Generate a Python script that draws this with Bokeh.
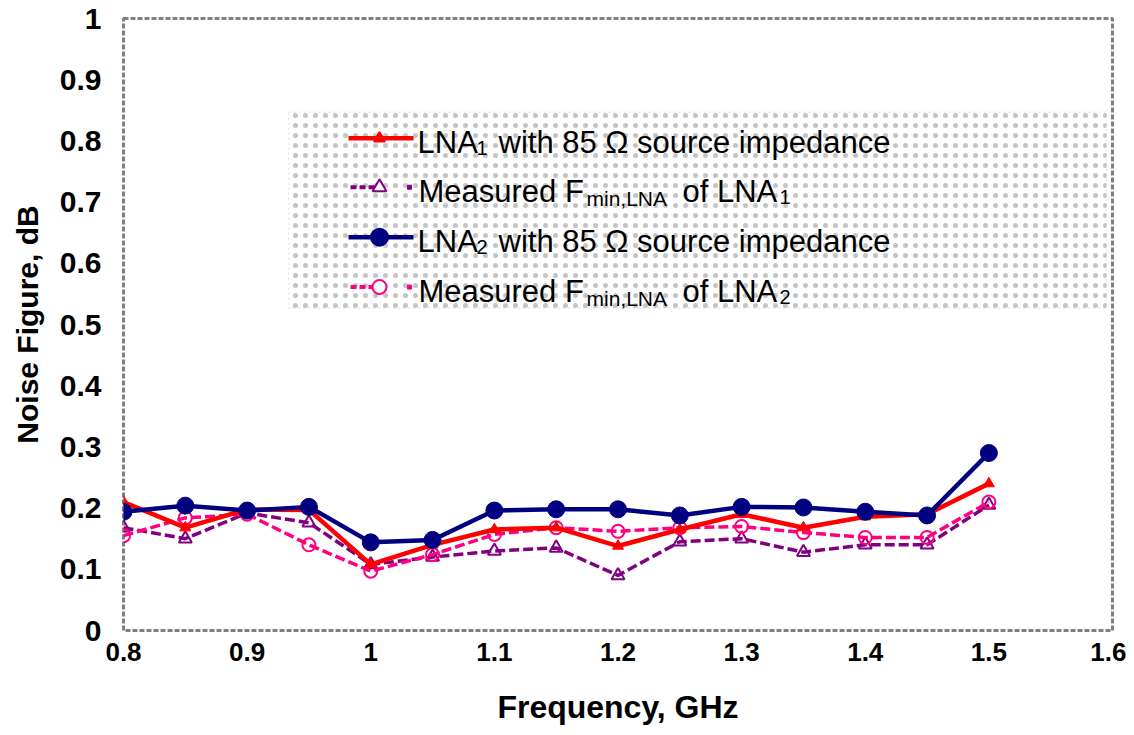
from bokeh.plotting import figure
from bokeh.models import Range1d, FixedTicker, Label, BoxAnnotation
from bokeh.embed import file_html
from bokeh.resources import INLINE

# ---------------- data ----------------
freq = [0.8, 0.85, 0.9, 0.95, 1.0, 1.05, 1.1, 1.15, 1.2, 1.25, 1.3, 1.35, 1.4, 1.45, 1.5]
lna1_85 = [0.21, 0.168, 0.198, 0.197, 0.108, 0.14, 0.165, 0.168, 0.138, 0.165, 0.19, 0.168, 0.186, 0.19, 0.24]
fmin_lna1 = [0.168, 0.15, 0.192, 0.176, 0.108, 0.12, 0.13, 0.135, 0.09, 0.145, 0.15, 0.128, 0.14, 0.14, 0.205]
lna2_85 = [0.194, 0.204, 0.196, 0.202, 0.144, 0.148, 0.196, 0.198, 0.198, 0.188, 0.202, 0.201, 0.194, 0.188, 0.29]
fmin_lna2 = [0.155, 0.184, 0.19, 0.14, 0.097, 0.124, 0.157, 0.168, 0.162, 0.168, 0.17, 0.16, 0.152, 0.152, 0.21]

x_ticks = [0.8, 0.9, 1.0, 1.1, 1.2, 1.3, 1.4, 1.5, 1.6]
x_tick_labels = ["0.8", "0.9", "1", "1.1", "1.2", "1.3", "1.4", "1.5", "1.6"]
y_ticks = [0.0, 0.1, 0.2, 0.3, 0.4, 0.5, 0.6, 0.7, 0.8, 0.9, 1.0]
y_tick_labels = ["0", "0.1", "0.2", "0.3", "0.4", "0.5", "0.6", "0.7", "0.8", "0.9", "1"]

FONT = "Liberation Sans"
RED = "#FF0000"
PURPLE = "#800080"
NAVY = "#000080"
PINK = "#FF0080"

p = figure(width=1126, height=727, output_backend="svg", toolbar_location=None,
           x_range=Range1d(0.8, 1.6), y_range=Range1d(0, 1),
           min_border_left=123, min_border_right=14, min_border_top=18, min_border_bottom=96,
           background_fill_color="white", border_fill_color="white")

p.xgrid.visible = False
p.ygrid.visible = False
p.outline_line_color = "#808080"
p.outline_line_width = 3
p.outline_line_dash = "5 2"

for ax in (p.xaxis[0], p.yaxis[0]):
    ax.axis_line_color = None
    ax.major_tick_line_color = None
    ax.minor_tick_line_color = None
    ax.major_tick_in = 0
    ax.major_tick_out = 0
    ax.minor_tick_in = 0
    ax.minor_tick_out = 0
    ax.major_label_text_font = FONT
    ax.major_label_text_font_style = "bold"
    ax.major_label_text_color = "black"
    ax.axis_label_text_font = FONT
    ax.axis_label_text_font_style = "bold"
    ax.axis_label_text_color = "black"

p.xaxis.ticker = FixedTicker(ticks=x_ticks)
p.xaxis.major_label_overrides = {t: l for t, l in zip(x_ticks, x_tick_labels)}
p.xaxis.major_label_text_font_size = "26px"
p.xaxis.major_label_standoff = 12
p.xaxis.axis_label = "Frequency, GHz"
p.xaxis.axis_label_text_font_size = "32px"
p.xaxis.axis_label_standoff = 25

p.yaxis.ticker = FixedTicker(ticks=y_ticks)
p.yaxis.major_label_overrides = {t: l for t, l in zip(y_ticks, y_tick_labels)}
p.yaxis.major_label_text_font_size = "30px"
p.yaxis.major_label_standoff = 22
p.yaxis.axis_label = "Noise Figure, dB"
p.yaxis.axis_label_text_font_size = "30px"
p.yaxis.axis_label_standoff = 13

# ---------------- series ----------------
p.line(freq, fmin_lna1, line_color=PURPLE, line_width=3.5, line_dash="10 4")
p.scatter(freq, fmin_lna1, marker="triangle", size=13, line_color=PURPLE, line_width=2, fill_color=None)
p.line(freq, fmin_lna2, line_color=PINK, line_width=3.5, line_dash="10 4")
p.scatter(freq, fmin_lna2, marker="circle", size=13, line_color=PINK, line_width=2, fill_color=None)
p.line(freq, lna1_85, line_color=RED, line_width=4.5)
p.scatter(freq, lna1_85, marker="triangle", size=11, line_color=RED, fill_color=RED)
p.line(freq, lna2_85, line_color=NAVY, line_width=4.5)
p.scatter(freq, lna2_85, marker="circle", size=17, line_color=NAVY, fill_color=NAVY)

# ---------------- legend (layout in pixel positions of the frame) ----------------
def dx(px):
    return 0.8 + (px - 123) / (1112 - 123) * 0.8

def dy(py):
    return (631 - py) / (631 - 18)

box = BoxAnnotation(left=dx(288), right=dx(1106), top=dy(112), bottom=dy(308),
                    fill_color="white", fill_alpha=1.0,
                    hatch_pattern="dot", hatch_color="#C4C4C4", hatch_scale=10, hatch_weight=1,
                    line_color="#B0B0B0", line_dash="2 3", line_width=1.5, level="underlay")
p.add_layout(box)

entries = [
    # (line color, dash, marker, marker fill, marker size, line y px, baseline px, main, sub, rest, sub2)
    (RED, "solid", "triangle", RED, 11, 138, 142, "LNA", "1", "with 85 Ω source impedance", None),
    (PURPLE, "6 3", "triangle", None, 14, 187, 191, "Measured F", "min,LNA", "of LNA", "1"),
    (NAVY, "solid", "circle", NAVY, 17, 237, 241, "LNA", "2", "with 85 Ω source impedance", None),
    (PINK, "6 3", "circle", None, 14, 287, 291, "Measured F", "min,LNA", "of LNA", "2"),
]

for (col, dash, mk, mfill, msz, ly, bl, main, sub, rest, sub2) in entries:
    if dash == "solid":
        p.line([dx(348), dx(413)], [dy(ly), dy(ly)], line_color=col, line_width=4.5)
    else:
        p.line([dx(350), dx(382)], [dy(ly), dy(ly)], line_color=col, line_width=4, line_dash=dash)
        p.scatter([dx(409)], [dy(ly)], marker="square", size=4, line_color=col, fill_color=col)
    p.scatter([dx(379)], [dy(ly)], marker=mk, size=msz, line_color=col, line_width=2,
              fill_color=mfill if mfill else "white")
    if main == "LNA":
        p.add_layout(Label(x=dx(417), y=dy(bl), text=main, text_font=FONT, text_font_size="31px",
                           text_color="black", text_baseline="alphabetic", text_align="left"))
        p.add_layout(Label(x=dx(476), y=dy(bl + 6), text=sub, text_font=FONT, text_font_size="20px",
                           text_color="black", text_baseline="alphabetic", text_align="left"))
        p.add_layout(Label(x=dx(498), y=dy(bl), text=rest, text_font=FONT, text_font_size="31px",
                           text_color="black", text_baseline="alphabetic", text_align="left"))
    else:
        p.add_layout(Label(x=dx(418), y=dy(bl), text=main, text_font=FONT, text_font_size="31px",
                           text_color="black", text_baseline="alphabetic", text_align="left"))
        p.add_layout(Label(x=dx(586), y=dy(bl + 7), text=sub, text_font=FONT, text_font_size="21px",
                           text_color="black", text_baseline="alphabetic", text_align="left"))
        p.add_layout(Label(x=dx(682), y=dy(bl), text=rest, text_font=FONT, text_font_size="31px",
                           text_color="black", text_baseline="alphabetic", text_align="left"))
        p.add_layout(Label(x=dx(779), y=dy(bl + 6), text=sub2, text_font=FONT, text_font_size="20px",
                           text_color="black", text_baseline="alphabetic", text_align="left"))

open("out.html", "w").write(file_html(p, INLINE))
